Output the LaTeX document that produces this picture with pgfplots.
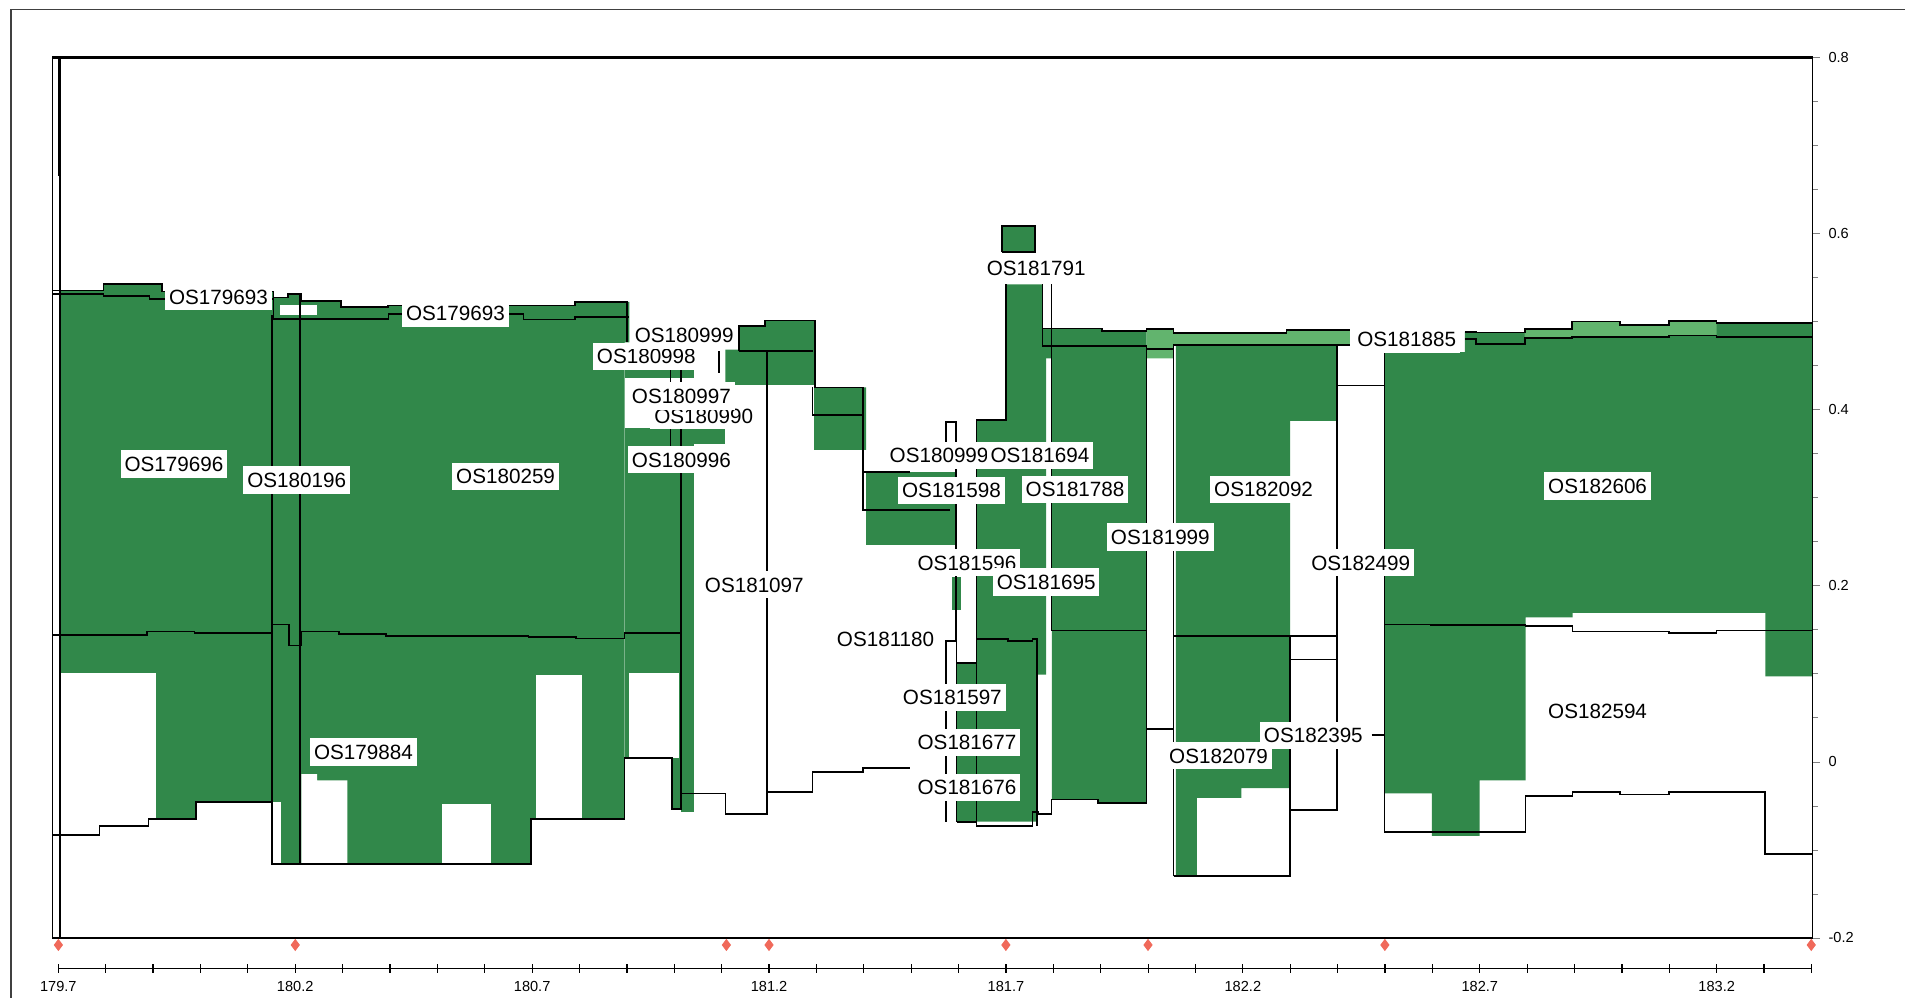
\documentclass[border=0pt]{standalone}
\usepackage{fontspec}
\setmainfont{Liberation Sans}
\usepackage{pgfplots}
\pgfplotsset{compat=1.18}
\definecolor{dg}{RGB}{49,136,74}
\definecolor{lg}{RGB}{98,180,110}
\definecolor{mk}{RGB}{240,105,90}
\pgfplotsset{
  gf/.style={fill=dg, draw=none, forget plot},
  lf/.style={fill=lg, draw=none, forget plot},
  wf/.style={fill=white, draw=none, forget plot},
  bl/.style={black, line width=0.7pt, forget plot},
}
\tikzset{
  lab/.style={fill=white, inner xsep=1.6pt, inner ysep=2.6pt, text height=6.1pt, text depth=0pt,
    font=\fontsize{8.5}{10}\selectfont},
}
\begin{document}
\begin{tikzpicture}
\useasboundingbox (-21.5pt,-24.5pt) rectangle (762.5pt,386pt);
\draw[line width=0.5pt, black!75] (-17pt,-40pt) -- (-17pt,382pt) -- (780pt,382pt);

\begin{axis}[
  scale only axis, width=724.5pt, height=362.5pt,
  at={(0,0)}, anchor=south west,
  xmin=179.687, xmax=183.403, ymin=-0.2, ymax=0.8,
  xtick=\empty,
  ytick={-0.2,0,0.2,0.4,0.6,0.8},
  yticklabels={-0.2,0,0.2,0.4,0.6,0.8},
  minor ytick={-0.15,-0.1,-0.05,0.05,0.1,0.15,0.25,0.3,0.35,0.45,0.5,0.55,0.65,0.7,0.75},
  ytick pos=right, yticklabel pos=right,
  tick align=outside, major tick length=3pt, minor tick length=2pt,
  yticklabel style={font=\fontsize{6}{7}\selectfont},
  axis line style={line width=0.6pt},
  axis on top,
  clip=false,
]
% dark green areas
\addplot[gf] coordinates {(179.703,0.535) (179.795,0.535) (179.795,0.542) (179.918,0.542) (179.918,0.534) (180.154,0.534) (180.154,0.527) (180.185,0.527) (180.185,0.531) (180.213,0.531) (180.213,0.523) (180.297,0.523) (180.297,0.516) (180.395,0.516) (180.395,0.518) (180.790,0.518) (180.790,0.522) (180.905,0.522) (180.905,0.476) (180.895,0.476) (180.895,-0.116) (179.703,-0.116)} -- cycle;
\addplot[gf] coordinates {(180.895,0.436) (181.042,0.436) (181.042,0.450) (180.895,0.450)} -- cycle;
\addplot[gf] coordinates {(180.895,0.361) (181.107,0.361) (181.107,0.379) (180.895,0.379)} -- cycle;
\addplot[gf] coordinates {(180.895,-0.057) (181.042,-0.057) (181.042,0.361) (180.895,0.361)} -- cycle;
\addplot[gf] coordinates {(181.108,0.428) (181.108,0.468) (181.136,0.468) (181.136,0.495) (181.191,0.495) (181.191,0.501) (181.297,0.501) (181.297,0.425) (181.405,0.425) (181.405,0.354) (181.295,0.354) (181.295,0.428)} -- cycle;
\addplot[gf] coordinates {(181.405,0.246) (181.592,0.246) (181.592,0.329) (181.405,0.329)} -- cycle;
\addplot[gf] coordinates {(181.692,0.579) (181.762,0.579) (181.762,0.608) (181.692,0.608)} -- cycle;
\addplot[gf] coordinates {(181.638,0.388) (181.700,0.388) (181.700,0.542) (181.777,0.542) (181.777,0.472) (181.785,0.472) (181.785,0.099) (181.765,0.099) (181.765,-0.068) (181.638,-0.068)} -- cycle;
\addplot[gf] coordinates {(181.596,-0.068) (181.638,-0.068) (181.638,0.112) (181.596,0.112)} -- cycle;
\addplot[gf] coordinates {(181.587,0.172) (181.605,0.172) (181.605,0.210) (181.587,0.210)} -- cycle;
\addplot[gf] coordinates {(181.797,0.472) (181.997,0.472) (181.997,-0.047) (181.894,-0.047) (181.894,-0.043) (181.797,-0.043)} -- cycle;
\addplot[gf] coordinates {(181.777,0.492) (181.903,0.492) (181.903,0.489) (181.997,0.489) (181.997,0.458) (181.777,0.458)} -- cycle;
\addplot[gf] coordinates {(182.059,0.472) (182.399,0.472) (182.399,0.387) (182.300,0.387) (182.300,-0.030) (182.197,-0.030) (182.197,-0.041) (182.103,-0.041) (182.103,-0.130) (182.059,-0.130)} -- cycle;
\addplot[gf] coordinates {(182.499,0.465) (182.669,0.465) (182.669,0.488) (182.692,0.488) (182.692,0.4875) (182.795,0.4875) (182.795,0.4915) (182.895,0.4915) (182.895,0.4997) (182.997,0.4997) (182.997,0.496) (183.100,0.496) (183.100,0.500) (183.200,0.500) (183.200,0.4985) (183.403,0.4985) (183.403,0.097) (183.303,0.097) (183.303,0.169) (182.896,0.169) (182.896,0.164) (182.797,0.164) (182.797,-0.021) (182.700,-0.021) (182.700,-0.084) (182.599,-0.084) (182.599,-0.036) (182.499,-0.036)} -- cycle;
% light green bands
\addplot[lf] coordinates {(181.997,0.4915) (182.054,0.4915) (182.054,0.487) (182.292,0.487) (182.292,0.490) (182.426,0.490) (182.426,0.473) (182.054,0.473) (182.054,0.458) (181.997,0.458)} -- cycle;
\addplot[lf] coordinates {(182.795,0.4915) (182.895,0.4915) (182.895,0.4997) (182.997,0.4997) (182.997,0.496) (183.100,0.496) (183.100,0.500) (183.200,0.500) (183.200,0.484) (183.100,0.484) (183.100,0.4826) (182.895,0.4826) (182.895,0.4807) (182.795,0.4807)} -- cycle;
% white gaps
\addplot[wf] coordinates {(179.687,-0.083) (179.787,-0.083) (179.787,-0.073) (179.890,-0.073) (179.890,-0.065) (179.990,-0.065) (179.990,-0.046) (180.151,-0.046) (180.151,-0.116) (180.697,-0.116) (180.697,-0.065) (180.895,-0.065) (180.895,0.004) (180.995,0.004) (180.995,-0.054) (181.014,-0.054) (181.014,-0.2) (179.687,-0.2)} -- cycle;
\addplot[wf] coordinates {(179.703,-0.09) (179.907,-0.09) (179.907,0.101) (179.703,0.101)} -- cycle;
\addplot[wf] coordinates {(180.151,-0.116) (180.169,-0.116) (180.169,-0.046) (180.151,-0.046)} -- cycle;
\addplot[wf] coordinates {(180.213,-0.116) (180.213,-0.014) (180.246,-0.014) (180.246,-0.021) (180.310,-0.021) (180.310,-0.116)} -- cycle;
\addplot[wf] coordinates {(180.510,-0.116) (180.613,-0.116) (180.613,-0.048) (180.510,-0.048)} -- cycle;
\addplot[wf] coordinates {(180.708,-0.065) (180.806,-0.065) (180.806,0.098) (180.708,0.098)} -- cycle;
\addplot[wf] coordinates {(180.905,0.004) (181.009,0.004) (181.009,0.101) (180.905,0.101)} -- cycle;
\addplot[wf] coordinates {(180.167,0.507) (180.246,0.507) (180.246,0.518) (180.167,0.518)} -- cycle;
% black outline and step lines
\addplot[black, line width=1.3pt, forget plot] coordinates {(179.687,0.8) (183.403,0.8)};
\addplot[black, line width=1.3pt, forget plot] coordinates {(179.703,0.8) (179.703,0.665)};
\addplot[bl] coordinates {(179.703,0.8) (179.703,-0.2)};
\addplot[bl] coordinates {(179.687,0.535) (179.795,0.535) (179.795,0.542) (179.918,0.542) (179.918,0.534) (180.154,0.534) (180.154,0.527) (180.185,0.527) (180.185,0.531) (180.213,0.531) (180.213,0.523) (180.297,0.523) (180.297,0.516) (180.395,0.516) (180.395,0.518) (180.790,0.518) (180.790,0.522) (180.900,0.522) (180.900,0.476)};
\addplot[bl] coordinates {(179.687,0.531) (179.795,0.531) (179.795,0.529) (179.892,0.529) (179.892,0.525) (180.154,0.525) (180.154,0.503) (180.397,0.503) (180.397,0.508) (180.682,0.508) (180.682,0.502) (180.790,0.502) (180.790,0.505) (180.905,0.505)};
\addplot[bl] coordinates {(180.151,-0.116) (180.151,0.507)};
\addplot[bl] coordinates {(180.210,-0.116) (180.210,0.531)};
\addplot[bl] coordinates {(179.687,0.144) (179.887,0.144) (179.887,0.148) (179.987,0.148) (179.987,0.146) (180.151,0.146) (180.151,0.156) (180.187,0.156) (180.187,0.132) (180.213,0.132) (180.213,0.148) (180.292,0.148) (180.292,0.145) (180.392,0.145) (180.392,0.143) (180.692,0.143) (180.692,0.142) (180.792,0.142) (180.792,0.140) (180.895,0.140) (180.895,0.146) (181.014,0.146)};
\addplot[bl] coordinates {(179.687,-0.083) (179.787,-0.083) (179.787,-0.073) (179.890,-0.073) (179.890,-0.065) (179.990,-0.065) (179.990,-0.046) (180.151,-0.046) (180.151,-0.116) (180.697,-0.116) (180.697,-0.065) (180.895,-0.065) (180.895,0.004) (180.995,0.004) (180.995,-0.054) (181.014,-0.054) (181.014,0.450)};
\addplot[bl] coordinates {(180.992,0.450) (180.992,0.354)};
\addplot[bl] coordinates {(181.014,-0.036) (181.108,-0.036) (181.108,-0.059) (181.195,-0.059) (181.195,-0.034) (181.292,-0.034) (181.292,-0.012) (181.399,-0.012) (181.399,-0.007) (181.497,-0.007)};
\addplot[bl] coordinates {(181.195,-0.059) (181.195,0.466)};
\addplot[bl] coordinates {(181.136,0.466) (181.292,0.466)};
\addplot[bl] coordinates {(181.136,0.466) (181.136,0.495) (181.191,0.495) (181.191,0.501) (181.297,0.501) (181.297,0.425) (181.399,0.425) (181.399,0.286) (181.582,0.286)};
\addplot[bl] coordinates {(181.292,0.425) (181.292,0.394) (181.399,0.394)};
\addplot[bl] coordinates {(181.095,0.466) (181.095,0.441)};
\addplot[bl] coordinates {(181.399,0.329) (181.497,0.329)};
\addplot[bl] coordinates {(181.692,0.579) (181.762,0.579) (181.762,0.608) (181.692,0.608) (181.692,0.579)};
\addplot[bl] coordinates {(181.700,0.542) (181.700,0.388) (181.638,0.388) (181.638,-0.068)};
\addplot[bl] coordinates {(181.777,0.542) (181.777,0.472)};
\addplot[bl] coordinates {(181.796,0.542) (181.796,0.149)};
\addplot[bl] coordinates {(181.638,0.139) (181.705,0.139) (181.705,0.137) (181.756,0.137) (181.756,0.139) (181.765,0.139) (181.765,-0.073)};
\addplot[bl] coordinates {(181.596,-0.068) (181.638,-0.068) (181.638,-0.073) (181.756,-0.073) (181.756,-0.057) (181.769,-0.057) (181.769,-0.059) (181.796,-0.059) (181.796,-0.043) (181.894,-0.043) (181.894,-0.047) (181.997,-0.047)};
\addplot[bl] coordinates {(181.573,-0.068) (181.573,0.137) (181.596,0.137) (181.596,-0.068)};
\addplot[bl] coordinates {(181.596,0.112) (181.638,0.112)};
\addplot[bl] coordinates {(181.573,0.359) (181.573,0.386) (181.595,0.386) (181.595,0.137)};
\addplot[bl] coordinates {(181.796,0.149) (181.997,0.149)};
\addplot[bl] coordinates {(181.997,-0.047) (181.997,0.469)};
\addplot[bl] coordinates {(182.054,-0.130) (182.054,0.469)};
\addplot[bl] coordinates {(181.997,0.037) (182.054,0.037)};
\addplot[bl] coordinates {(181.777,0.492) (181.903,0.492) (181.903,0.489) (181.997,0.489) (181.997,0.4915) (182.054,0.4915) (182.054,0.487) (182.292,0.487) (182.292,0.490) (182.426,0.490)};
\addplot[bl] coordinates {(181.777,0.472) (181.997,0.472) (181.997,0.469) (182.054,0.469) (182.054,0.473) (182.426,0.473)};
\addplot[bl] coordinates {(182.054,0.143) (182.399,0.143)};
\addplot[bl] coordinates {(182.300,0.116) (182.399,0.116)};
\addplot[bl] coordinates {(182.300,0.143) (182.300,-0.130) (182.054,-0.130)};
\addplot[bl] coordinates {(182.399,0.473) (182.399,-0.055) (182.300,-0.055)};
\addplot[bl] coordinates {(182.399,0.427) (182.499,0.427)};
\addplot[bl] coordinates {(182.472,0.030) (182.499,0.030)};
\addplot[bl] coordinates {(182.499,0.465) (182.499,-0.080) (182.797,-0.080) (182.797,-0.039) (182.896,-0.039) (182.896,-0.034) (182.997,-0.034) (182.997,-0.037) (183.100,-0.037) (183.100,-0.034) (183.303,-0.034) (183.303,-0.105) (183.403,-0.105)};
\addplot[bl] coordinates {(182.499,0.156) (182.597,0.156) (182.597,0.155) (182.797,0.155) (182.797,0.154) (182.896,0.154) (182.896,0.148) (183.100,0.148) (183.100,0.146) (183.200,0.146) (183.200,0.149) (183.403,0.149)};
\addplot[bl] coordinates {(182.669,0.488) (182.692,0.488) (182.692,0.4875) (182.795,0.4875) (182.795,0.4915) (182.895,0.4915) (182.895,0.4997) (182.997,0.4997) (182.997,0.496) (183.100,0.496) (183.100,0.500) (183.200,0.500) (183.200,0.4985) (183.403,0.4985)};
\addplot[bl] coordinates {(182.669,0.480) (182.692,0.480) (182.692,0.474) (182.795,0.474) (182.795,0.4807) (182.895,0.4807) (182.895,0.4826) (183.100,0.4826) (183.100,0.484) (183.200,0.484) (183.200,0.482) (183.403,0.482)};
% marker positions
\addplot[only marks, mark=diamond*, mark size=2.2pt, color=mk, forget plot] coordinates {(179.7,-0.208) (180.2,-0.208) (181.11,-0.208) (181.2,-0.208) (181.7,-0.208) (182.0,-0.208) (182.5,-0.208) (183.4,-0.208)};
% labels (partly hidden ones first)
\node[lab] at (axis cs:180.941,0.460) {OS180998};
\node[lab] at (axis cs:181.062,0.393) {OS180990};
\node[lab] at (axis cs:181.559,0.348) {OS180999};
\node[lab] at (axis cs:181.618,0.226) {OS181596};
\node[lab] at (axis cs:180.038,0.528) {OS179693};
\node[lab] at (axis cs:180.538,0.509) {OS179693};
\node[lab] at (axis cs:179.944,0.338) {OS179696};
\node[lab] at (axis cs:180.203,0.320) {OS180196};
\node[lab] at (axis cs:180.644,0.324) {OS180259};
\node[lab] at (axis cs:180.344,0.011) {OS179884};
\node[lab] at (axis cs:181.021,0.484) {OS180999};
\node[lab] at (axis cs:181.015,0.415) {OS180997};
\node[lab] at (axis cs:181.015,0.343) {OS180996};
\node[lab] at (axis cs:181.169,0.201) {OS181097};
\node[lab] at (axis cs:181.764,0.561) {OS181791};
\node[lab] at (axis cs:181.772,0.348) {OS181694};
\node[lab] at (axis cs:181.585,0.308) {OS181598};
\node[lab] at (axis cs:181.846,0.309) {OS181788};
\node[lab] at (axis cs:182.026,0.255) {OS181999};
\node[lab] at (axis cs:182.244,0.309) {OS182092};
\node[lab] at (axis cs:181.785,0.204) {OS181695};
\node[lab] at (axis cs:182.449,0.226) {OS182499};
\node[lab] at (axis cs:181.446,0.139) {OS181180};
\node[lab] at (axis cs:181.587,0.073) {OS181597};
\node[lab] at (axis cs:181.618,0.022) {OS181677};
\node[lab] at (axis cs:181.618,-0.029) {OS181676};
\node[lab] at (axis cs:182.149,0.007) {OS182079};
\node[lab] at (axis cs:182.349,0.030) {OS182395};
\node[lab] at (axis cs:182.546,0.480) {OS181885};
\node[lab] at (axis cs:182.949,0.313) {OS182606};
\node[lab] at (axis cs:182.949,0.057) {OS182594};
\end{axis}

\begin{axis}[
  scale only axis, width=721.5pt, height=2pt,
  at={(2.5pt,-12.5pt)}, anchor=south west,
  xmin=179.7, xmax=183.4, ymin=0, ymax=1,
  axis x line=bottom, axis y line=none,
  axis line style={-, line width=0.6pt},
  xtick={179.7,180.2,180.7,181.2,181.7,182.2,182.7,183.2},
  xticklabels={179.7,180.2,180.7,181.2,181.7,182.2,182.7,183.2},
  minor xtick={179.8,179.9,180.0,180.1,180.3,180.4,180.5,180.6,180.8,180.9,181.0,181.1,181.3,181.4,181.5,181.6,181.8,181.9,182.0,182.1,182.3,182.4,182.5,182.6,182.8,182.9,183.0,183.1,183.3,183.4},
  tick align=center, major tick length=3.5pt, minor tick length=3.5pt,
  tick style={black, line width=0.5pt},
  xticklabel style={font=\fontsize{6}{7}\selectfont},
]
\addplot[draw=none, forget plot] coordinates {(179.7,0) (183.4,1)};
\end{axis}
\end{tikzpicture}
\end{document}
